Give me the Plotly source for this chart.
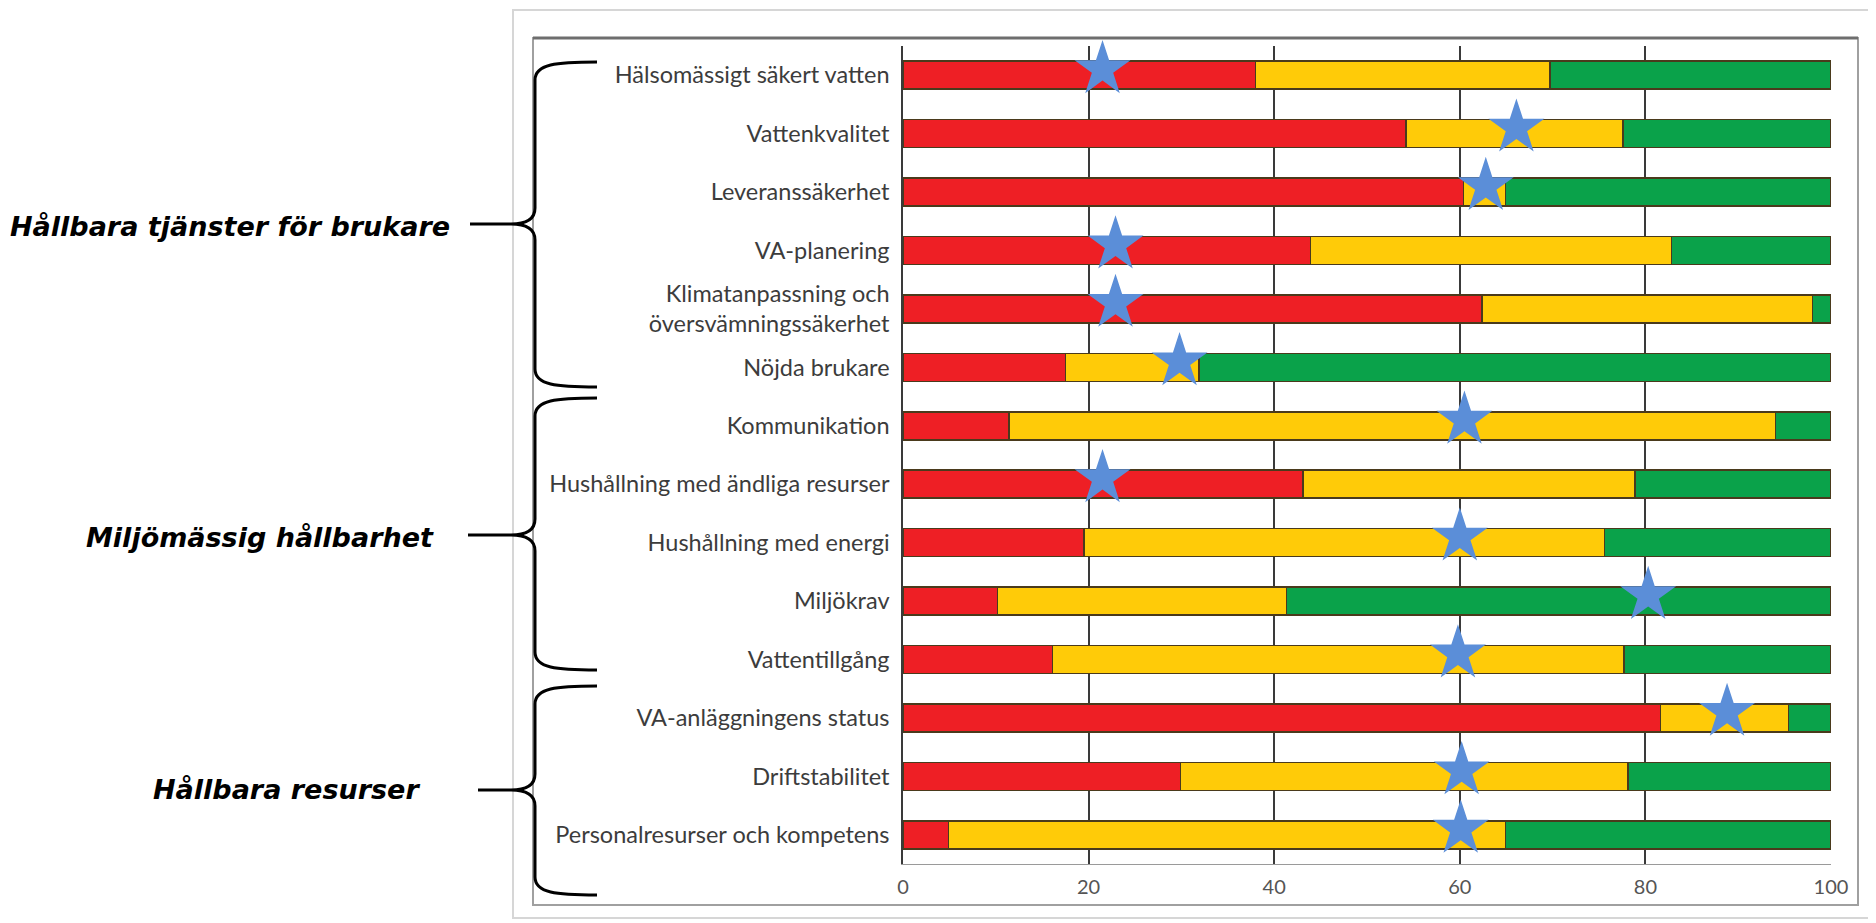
import plotly.graph_objects as go

categories = [
    "Hälsomässigt säkert vatten",
    "Vattenkvalitet",
    "Leveranssäkerhet",
    "VA-planering",
    "Klimatanpassning och<br>översvämningssäkerhet",
    "Nöjda brukare",
    "Kommunikation",
    "Hushållning med ändliga resurser",
    "Hushållning med energi",
    "Miljökrav",
    "Vattentillgång",
    "VA-anläggningens status",
    "Driftstabilitet",
    "Personalresurser och kompetens",
]
red = [38.0, 54.2, 60.4, 43.9, 62.4, 17.5, 11.4, 43.1, 19.5, 10.2, 16.1, 81.6, 29.9, 4.9]
yellow = [31.7, 23.4, 4.5, 38.9, 35.6, 14.4, 82.6, 35.8, 56.1, 31.1, 61.6, 13.8, 48.2, 60.0]
green = [30.3, 22.4, 35.1, 17.2, 2.0, 68.1, 6.0, 21.1, 24.4, 58.7, 22.3, 4.6, 21.9, 35.1]
stars = [21.5, 66.1, 62.8, 22.9, 22.9, 29.8, 60.5, 21.5, 60.0, 80.3, 59.8, 88.8, 60.2, 60.1]
x_ticks = [0, 20, 40, 60, 80, 100]
groups = ["Hållbara tjänster för brukare", "Miljömässig hållbarhet", "Hållbara resurser"]

# page body has an 8px margin; work in reference-page pixels and shift
OFF = 8
W, H = 1876 - OFF, 923 - OFF
L, R, T, B = 903 - OFF, 1831 - OFF, 46 - OFF, 864 - OFF

def px(x, y):
    x -= OFF
    y -= OFF
    return (x - L) / (R - L), (B - y) / (B - T)

def pt(x, y):
    a, b = px(x, y)
    return f"{a:.5f},{b:.5f}"

pos = list(range(len(categories)))

fig = go.Figure()
line_style = dict(color="#4a3a1c", width=1.5)
for vals, col in [(red, "#EE1F25"), (yellow, "#FFCB08"), (green, "#0AA24A")]:
    fig.add_trace(go.Bar(
        y=pos, x=vals, orientation="h", width=0.48,
        marker=dict(color=col, line=line_style), showlegend=False,
    ))

fig.add_trace(go.Scatter(
    y=[p - 0.1 for p in pos], x=stars, mode="markers",
    marker=dict(symbol="star", size=42, color="#5B8ED8", line=dict(width=0)),
    showlegend=False, cliponaxis=False,
))

shapes = []
# outer light frame
x0, y0 = px(513, 10); x1, y1 = px(1890, 918)
shapes.append(dict(type="rect", xref="paper", yref="paper", x0=x0, y0=y0, x1=x1, y1=y1,
                   line=dict(color="#d6d6d6", width=2), layer="below"))
# inner frame
x0, y0 = px(533, 38); x1, y1 = px(1858, 905)
shapes.append(dict(type="rect", xref="paper", yref="paper", x0=x0, y0=y0, x1=x1, y1=y1,
                   line=dict(color="#a0a0a0", width=2), layer="below"))
x0, y0 = px(533, 38); x1, y1 = px(1858, 38)
shapes.append(dict(type="line", xref="paper", yref="paper", x0=x0, y0=y0, x1=x1, y1=y1,
                   line=dict(color="#6e6e6e", width=3), layer="below"))

def brace(ty, my, by, xv=535, xe=597, xt=511, xl=472):
    p = (f"M{pt(xe, ty)} C{pt(556, ty)} {pt(xv, ty + 2)} {pt(xv, ty + 18)} "
         f"L{pt(xv, my - 16)} C{pt(xv, my - 5)} {pt(xv - 8, my)} {pt(xt, my)} "
         f"C{pt(xv - 8, my)} {pt(xv, my + 5)} {pt(xv, my + 16)} "
         f"L{pt(xv, by - 18)} C{pt(xv, by - 2)} {pt(556, by)} {pt(xe, by)}")
    shapes.append(dict(type="path", xref="paper", yref="paper", path=p,
                       line=dict(color="black", width=3)))
    a0, b0 = px(xl, my); a1, b1 = px(xt, my)
    shapes.append(dict(type="line", xref="paper", yref="paper", x0=a0, y0=b0, x1=a1, y1=b1,
                       line=dict(color="black", width=3)))

brace(62, 224, 387, xl=470)
brace(398, 535, 670, xl=468)
brace(686, 790, 895, xl=478)

annotations = []
for text, rx, cy in zip(groups, [452, 436, 422], [226, 537, 789]):
    a, b = px(rx, cy)
    annotations.append(dict(
        text=text, xref="paper", yref="paper", x=a, y=b, xanchor="right", yanchor="middle",
        showarrow=False,
        font=dict(family="DejaVu Sans", size=27, color="black", weight="bold", style="italic"),
    ))

fig.update_layout(
    width=W, height=H,
    margin=dict(l=L, r=W - R, t=T, b=H - B),
    barmode="stack",
    paper_bgcolor="white", plot_bgcolor="white",
    shapes=shapes, annotations=annotations,
    xaxis=dict(
        range=[0, 100], tickvals=x_ticks, ticktext=[str(v) for v in x_ticks],
        showgrid=True, gridcolor="#3a3a3a", gridwidth=1.5,
        zeroline=False, showline=True, linecolor="#9a9a9a", linewidth=1,
        ticks="", ticklabelstandoff=5,
        tickfont=dict(family="Lato", size=20, color="#555555"),
        fixedrange=True,
    ),
    yaxis=dict(
        range=[13.5, -0.5], tickvals=pos, ticktext=categories,
        showgrid=False, zeroline=False, showline=True, linecolor="#3a3a3a", linewidth=1.5,
        ticks="", ticklabelstandoff=7,
        tickfont=dict(family="Lato", size=23.5, color="#3c3c3c"),
        fixedrange=True,
    ),
)

fig.write_html("out.html")
